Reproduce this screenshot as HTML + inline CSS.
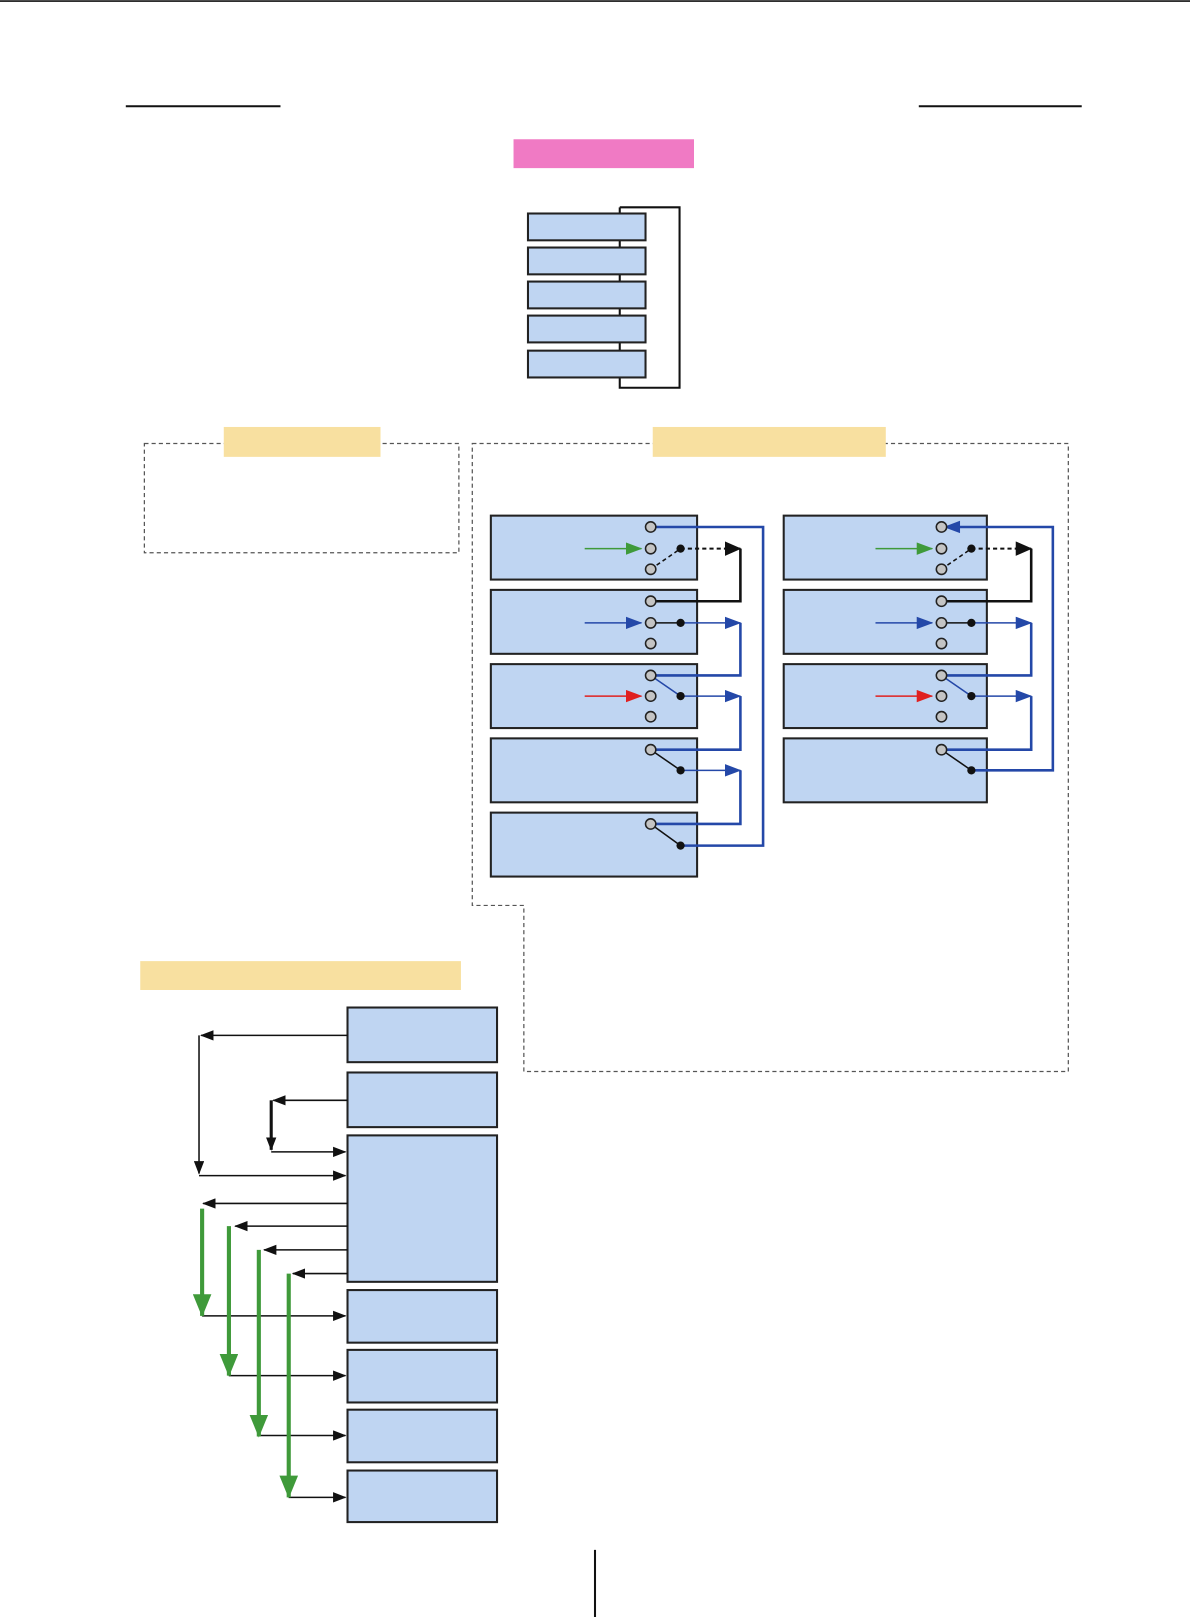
<!DOCTYPE html>
<html><head><meta charset="utf-8"><style>
html,body{margin:0;padding:0;background:#fff;}
svg{display:block}
</style></head><body>
<svg width="1190" height="1617" viewBox="0 0 1154 1568" xmlns="http://www.w3.org/2000/svg">
<defs>
<marker id="ak" markerWidth="13" markerHeight="10" refX="12" refY="5" orient="auto" markerUnits="userSpaceOnUse"><path d="M0,0 L13,5 L0,10 z" fill="#111"/></marker>
<marker id="akb" markerWidth="16" markerHeight="14" refX="15" refY="7" orient="auto" markerUnits="userSpaceOnUse"><path d="M0,0 L16,7 L0,14 z" fill="#111"/></marker>
<marker id="ab" markerWidth="16" markerHeight="12" refX="15" refY="6" orient="auto" markerUnits="userSpaceOnUse"><path d="M0,0 L16,6 L0,12 z" fill="#2448a8"/></marker>
<marker id="ag" markerWidth="16" markerHeight="12" refX="15" refY="6" orient="auto" markerUnits="userSpaceOnUse"><path d="M0,0 L16,6 L0,12 z" fill="#3f9a3a"/></marker>
<marker id="ar" markerWidth="16" markerHeight="12" refX="15" refY="6" orient="auto" markerUnits="userSpaceOnUse"><path d="M0,0 L16,6 L0,12 z" fill="#e02020"/></marker>
<marker id="agv" markerWidth="22" markerHeight="18" refX="21" refY="9" orient="auto" markerUnits="userSpaceOnUse"><path d="M0,0 L22,9 L0,18 z" fill="#3f9a3a"/></marker>
</defs>
<line x1="0" y1="1" x2="1154" y2="1" stroke="#111" stroke-width="1.5"/>
<line x1="122" y1="103" x2="272" y2="103" stroke="#111" stroke-width="2"/>
<line x1="891" y1="103" x2="1049" y2="103" stroke="#111" stroke-width="2"/>
<rect x="498" y="135" width="175" height="28" fill="#f07ac4"/>
<path d="M601,201 H659 V376 H601 V201" fill="none" stroke="#111" stroke-width="2"/>
<g fill="#bfd5f2" stroke="#222" stroke-width="2">
<rect x="512" y="207" width="114" height="26"/><rect x="512" y="240" width="114" height="26"/>
<rect x="512" y="273" width="114" height="26"/><rect x="512" y="306" width="114" height="26"/>
<rect x="512" y="340" width="114" height="26"/>
</g>
<g fill="none" stroke="#555" stroke-width="1.2" stroke-dasharray="4,3">
<rect x="140" y="430" width="305" height="106"/>
<path d="M458,430 H1036 V1039 H508 V878 H458 Z"/>
</g>
<rect x="217" y="414" width="152" height="29" fill="#f8e0a0"/>
<rect x="633" y="414" width="226" height="29" fill="#f8e0a0"/>
<rect x="136" y="932" width="311" height="28" fill="#f8e0a0"/>
<g fill="#bfd5f2" stroke="#222" stroke-width="2">
<rect x="476" y="500" width="200" height="62"/><rect x="476" y="572" width="200" height="62"/>
<rect x="476" y="644" width="200" height="62"/><rect x="476" y="716" width="200" height="62"/>
<rect x="476" y="788" width="200" height="62"/>
<rect x="760" y="500" width="197" height="62"/><rect x="760" y="572" width="197" height="62"/>
<rect x="760" y="644" width="197" height="62"/><rect x="760" y="716" width="197" height="62"/>
</g>
<g fill="none" stroke-width="2.5">
<path d="M631,511 H740 V820 H660" stroke="#2448a8"/>
<line x1="567" y1="532" x2="622" y2="532" stroke="#3f9a3a" stroke-width="1.5" marker-end="url(#ag)"/>
<line x1="631" y1="552" x2="660" y2="532" stroke="#111" stroke-width="1.5" stroke-dasharray="4,3"/>
<line x1="660" y1="532" x2="718" y2="532" stroke="#111" stroke-width="2" stroke-dasharray="4,3" marker-end="url(#akb)"/>
<path d="M718,532 V583 H631" stroke="#111"/>
<line x1="567" y1="604" x2="622" y2="604" stroke="#2448a8" stroke-width="1.5" marker-end="url(#ab)"/>
<line x1="631" y1="604" x2="660" y2="604" stroke="#111" stroke-width="1.5"/>
<line x1="660" y1="604" x2="718" y2="604" stroke="#2448a8" stroke-width="1.5" marker-end="url(#ab)"/>
<path d="M718,604 V655 H631" stroke="#2448a8"/>
<line x1="567" y1="675" x2="622" y2="675" stroke="#e02020" stroke-width="1.5" marker-end="url(#ar)"/>
<line x1="631" y1="655" x2="660" y2="675" stroke="#2448a8" stroke-width="1.5"/>
<line x1="660" y1="675" x2="718" y2="675" stroke="#2448a8" stroke-width="1.5" marker-end="url(#ab)"/>
<path d="M718,675 V727 H631" stroke="#2448a8"/>
<line x1="631" y1="727" x2="660" y2="747" stroke="#111" stroke-width="1.5"/>
<line x1="660" y1="747" x2="718" y2="747" stroke="#2448a8" stroke-width="1.5" marker-end="url(#ab)"/>
<path d="M718,747 V799 H631" stroke="#2448a8"/>
<line x1="631" y1="799" x2="660" y2="820" stroke="#111" stroke-width="1.5"/>
</g>
<g fill="none" stroke-width="2.5">
<path d="M942,747 H1021 V511 H920" stroke="#2448a8"/>
<path d="M915,511 L931,505 L931,517 z" fill="#2448a8" stroke="none"/>
<line x1="849" y1="532" x2="904" y2="532" stroke="#3f9a3a" stroke-width="1.5" marker-end="url(#ag)"/>
<line x1="913" y1="552" x2="942" y2="532" stroke="#111" stroke-width="1.5" stroke-dasharray="4,3"/>
<line x1="942" y1="532" x2="1000" y2="532" stroke="#111" stroke-width="2" stroke-dasharray="4,3" marker-end="url(#akb)"/>
<path d="M1000,532 V583 H913" stroke="#111"/>
<line x1="849" y1="604" x2="904" y2="604" stroke="#2448a8" stroke-width="1.5" marker-end="url(#ab)"/>
<line x1="913" y1="604" x2="942" y2="604" stroke="#111" stroke-width="1.5"/>
<line x1="942" y1="604" x2="1000" y2="604" stroke="#2448a8" stroke-width="1.5" marker-end="url(#ab)"/>
<path d="M1000,604 V655 H913" stroke="#2448a8"/>
<line x1="849" y1="675" x2="904" y2="675" stroke="#e02020" stroke-width="1.5" marker-end="url(#ar)"/>
<line x1="913" y1="655" x2="942" y2="675" stroke="#2448a8" stroke-width="1.5"/>
<line x1="942" y1="675" x2="1000" y2="675" stroke="#2448a8" stroke-width="1.5" marker-end="url(#ab)"/>
<path d="M1000,675 V727 H913" stroke="#2448a8"/>
<line x1="913" y1="727" x2="942" y2="747" stroke="#111" stroke-width="1.5"/>
</g>
<g fill="#c4c4c4" stroke="#222" stroke-width="1.5">
<circle cx="631" cy="511" r="5"/><circle cx="631" cy="532" r="5"/><circle cx="631" cy="552" r="5"/>
<circle cx="631" cy="583" r="5"/><circle cx="631" cy="604" r="5"/><circle cx="631" cy="624" r="5"/>
<circle cx="631" cy="655" r="5"/><circle cx="631" cy="675" r="5"/><circle cx="631" cy="695" r="5"/>
<circle cx="631" cy="727" r="5"/><circle cx="631" cy="799" r="5"/>
<circle cx="913" cy="511" r="5"/><circle cx="913" cy="532" r="5"/><circle cx="913" cy="552" r="5"/>
<circle cx="913" cy="583" r="5"/><circle cx="913" cy="604" r="5"/><circle cx="913" cy="624" r="5"/>
<circle cx="913" cy="655" r="5"/><circle cx="913" cy="675" r="5"/><circle cx="913" cy="695" r="5"/>
<circle cx="913" cy="727" r="5"/>
</g>
<g fill="#111">
<circle cx="660" cy="532" r="4"/><circle cx="660" cy="604" r="4"/><circle cx="660" cy="675" r="4"/>
<circle cx="660" cy="747" r="4"/><circle cx="660" cy="820" r="4"/>
<circle cx="942" cy="532" r="4"/><circle cx="942" cy="604" r="4"/><circle cx="942" cy="675" r="4"/>
<circle cx="942" cy="747" r="4"/>
</g>
<g fill="#bfd5f2" stroke="#222" stroke-width="2">
<rect x="337" y="977" width="145" height="53"/><rect x="337" y="1040" width="145" height="53"/>
<rect x="337" y="1101" width="145" height="142"/><rect x="337" y="1251" width="145" height="51"/>
<rect x="337" y="1309" width="145" height="51"/><rect x="337" y="1367" width="145" height="51"/>
<rect x="337" y="1426" width="145" height="50"/>
</g>
<g fill="none" stroke="#111" stroke-width="1.5">
<line x1="337" y1="1004" x2="195" y2="1004" marker-end="url(#ak)"/>
<line x1="193" y1="1004" x2="193" y2="1138" marker-end="url(#ak)"/>
<line x1="193" y1="1140" x2="335" y2="1140" marker-end="url(#ak)"/>
<line x1="337" y1="1067" x2="265" y2="1067" marker-end="url(#ak)"/>
<line x1="263" y1="1067" x2="263" y2="1115" stroke-width="3" marker-end="url(#ak)"/>
<line x1="263" y1="1117" x2="335" y2="1117" marker-end="url(#ak)"/>
<line x1="337" y1="1167" x2="197" y2="1167" marker-end="url(#ak)"/>
<line x1="337" y1="1189" x2="228" y2="1189" marker-end="url(#ak)"/>
<line x1="337" y1="1212" x2="256" y2="1212" marker-end="url(#ak)"/>
<line x1="337" y1="1235" x2="284" y2="1235" marker-end="url(#ak)"/>
<line x1="196" y1="1276" x2="335" y2="1276" marker-end="url(#ak)"/>
<line x1="222" y1="1334" x2="335" y2="1334" marker-end="url(#ak)"/>
<line x1="251" y1="1392" x2="335" y2="1392" marker-end="url(#ak)"/>
<line x1="280" y1="1452" x2="335" y2="1452" marker-end="url(#ak)"/>
</g>
<g stroke="#3f9a3a" stroke-width="4" fill="none">
<line x1="196" y1="1172" x2="196" y2="1276" marker-end="url(#agv)"/>
<line x1="222" y1="1189" x2="222" y2="1334" marker-end="url(#agv)"/>
<line x1="251" y1="1212" x2="251" y2="1393" marker-end="url(#agv)"/>
<line x1="280" y1="1235" x2="280" y2="1452" marker-end="url(#agv)"/>
</g>
<line x1="577" y1="1503" x2="577" y2="1568" stroke="#111" stroke-width="2"/>
</svg>
</body></html>
